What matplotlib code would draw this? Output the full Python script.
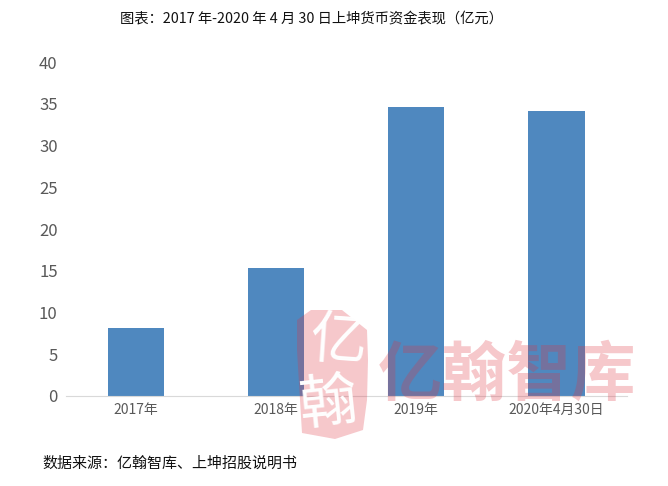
import matplotlib
matplotlib.use("Agg")
import matplotlib.pyplot as plt
from matplotlib.patches import Polygon
from matplotlib.transforms import Affine2D

plt.rcParams['font.family'] = ['Noto Sans CJK SC', 'DejaVu Sans']

categories = ["2017年", "2018年", "2019年", "2020年4月30日"]
values = [8.1, 15.3, 34.6, 34.1]
yticks = [0, 5, 10, 15, 20, 25, 30, 35, 40]
title = "图表：2017 年-2020 年 4 月 30 日上坤货币资金表现（亿元）"
source = "数据来源：亿翰智库、上坤招股说明书"

W, H = 668, 486
fig = plt.figure(figsize=(W/100, H/100), dpi=100)
ax = fig.add_axes([66/W, 1-396/H, (626.6-66)/W, (396-62)/H])
ax.bar(range(4), values, width=0.4, color="#4f88bf", zorder=2)
ax.set_xlim(-0.5, 3.5)
ax.set_ylim(0, 40)
ax.set_yticks(yticks)
ax.set_xticks(range(4))
ax.set_xticklabels(categories)
ax.tick_params(axis='both', length=0, colors="#595959", labelsize=10)
ax.tick_params(axis='y', labelsize=12, pad=6)
ax.tick_params(axis='x', pad=5)
for s in ['top', 'right', 'left']:
    ax.spines[s].set_visible(False)
ax.spines['bottom'].set_color("#d9d9d9")

fig.text(311.5/W, 1-19/H, title, ha='center', va='center', fontsize=10.3, color="#111111")
fig.text(42.5/W, 1-464/H, source, ha='left', va='center', fontsize=10.8, color="#111111")

# watermark
mark = "#de3442"
px = Affine2D().scale(1/W, -1/H).translate(0, 1) + fig.transFigure
outline = [(297, 320), (311, 310), (342, 310), (367, 330), (368, 360), (367, 400),
           (363, 430), (335, 439), (302, 433), (300, 400), (297, 350)]
seal = Polygon(outline, closed=True, transform=px, facecolor=mark, edgecolor='none', alpha=0.27, zorder=4)
fig.add_artist(seal)
fig.text(338/W, 1-342/H, "亿", ha='center', va='center', fontsize=41, color="white", zorder=5, rotation=-4)
fig.text(328/W, 1-405/H, "翰", ha='center', va='center', fontsize=42, color="white", zorder=5, rotation=6)
fig.text(507.5/W, 1-376/H, "亿翰智库", ha='center', va='center', fontsize=46.5, color=mark, alpha=0.27, fontweight='bold', zorder=5)

fig.savefig("out.png", dpi=100)
